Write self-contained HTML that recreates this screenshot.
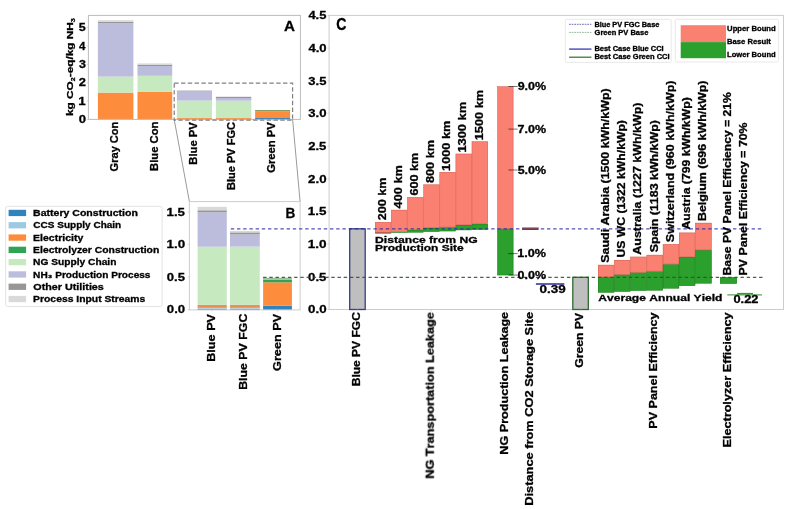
<!DOCTYPE html>
<html><head><meta charset="utf-8"><style>
html,body{margin:0;padding:0;background:#fff;}
svg{display:block;filter:blur(0.35px);}
text{font-family:"Liberation Sans",sans-serif;font-weight:bold;font-kerning:none;stroke:#000;stroke-width:0.3px;}
</style></head><body>
<svg width="787" height="509" viewBox="0 0 787 509">
<rect width="787" height="509" fill="#fff"/>
<g opacity="0.999">
<rect x="97.90" y="92.60" width="35.50" height="26.80" fill="#fd8d3c"/>
<rect x="97.90" y="76.60" width="35.50" height="16.00" fill="#c7e9c0"/>
<rect x="97.90" y="23.10" width="35.50" height="53.50" fill="#bcbddc"/>
<rect x="97.90" y="21.80" width="35.50" height="1.30" fill="#969696"/>
<rect x="97.90" y="20.20" width="35.50" height="1.60" fill="#d9d9d9"/>
<rect x="137.50" y="91.70" width="34.70" height="27.70" fill="#fd8d3c"/>
<rect x="137.50" y="75.80" width="34.70" height="15.90" fill="#c7e9c0"/>
<rect x="137.50" y="66.00" width="34.70" height="9.80" fill="#bcbddc"/>
<rect x="137.50" y="64.70" width="34.70" height="1.30" fill="#969696"/>
<rect x="137.50" y="63.40" width="34.70" height="1.30" fill="#d9d9d9"/>
<rect x="176.90" y="118.90" width="35.10" height="0.50" fill="#3182bd"/>
<rect x="176.90" y="118.00" width="35.10" height="0.90" fill="#fd8d3c"/>
<rect x="176.90" y="100.60" width="35.10" height="17.40" fill="#c7e9c0"/>
<rect x="176.90" y="91.40" width="35.10" height="9.20" fill="#bcbddc"/>
<rect x="176.90" y="90.60" width="35.10" height="0.80" fill="#969696"/>
<rect x="176.90" y="90.00" width="35.10" height="0.60" fill="#d9d9d9"/>
<rect x="215.90" y="118.90" width="35.40" height="0.50" fill="#3182bd"/>
<rect x="215.90" y="118.00" width="35.40" height="0.90" fill="#fd8d3c"/>
<rect x="215.90" y="100.70" width="35.40" height="17.30" fill="#c7e9c0"/>
<rect x="215.90" y="98.00" width="35.40" height="2.70" fill="#bcbddc"/>
<rect x="215.90" y="97.00" width="35.40" height="1.00" fill="#969696"/>
<rect x="215.90" y="96.50" width="35.40" height="0.50" fill="#d9d9d9"/>
<rect x="255.10" y="118.00" width="35.00" height="1.40" fill="#3182bd"/>
<rect x="255.10" y="111.30" width="35.00" height="6.70" fill="#fd8d3c"/>
<rect x="255.10" y="110.10" width="35.00" height="1.20" fill="#7d8f55"/>
<rect x="88.4" y="15.4" width="212.0" height="104.0" fill="none" stroke="#bcbcbc" stroke-width="1"/>
<line x1="86.80" y1="119.40" x2="88.40" y2="119.40" stroke="#cccccc" stroke-width="0.8"/>
<text x="78.68" y="123.12" font-size="10.8" textLength="7.25" lengthAdjust="spacingAndGlyphs" fill="#000">0</text>
<line x1="86.80" y1="101.05" x2="88.40" y2="101.05" stroke="#cccccc" stroke-width="0.8"/>
<text x="78.36" y="104.77" font-size="10.8" textLength="7.41" lengthAdjust="spacingAndGlyphs" fill="#000">1</text>
<line x1="86.80" y1="82.70" x2="88.40" y2="82.70" stroke="#cccccc" stroke-width="0.8"/>
<text x="78.75" y="86.47" font-size="10.8" textLength="7.16" lengthAdjust="spacingAndGlyphs" fill="#000">2</text>
<line x1="86.80" y1="64.35" x2="88.40" y2="64.35" stroke="#cccccc" stroke-width="0.8"/>
<text x="78.91" y="68.06" font-size="10.8" textLength="6.94" lengthAdjust="spacingAndGlyphs" fill="#000">3</text>
<line x1="86.80" y1="46.00" x2="88.40" y2="46.00" stroke="#cccccc" stroke-width="0.8"/>
<text x="79.02" y="49.72" font-size="10.8" textLength="6.44" lengthAdjust="spacingAndGlyphs" fill="#000">4</text>
<line x1="86.80" y1="27.65" x2="88.40" y2="27.65" stroke="#cccccc" stroke-width="0.8"/>
<text x="78.82" y="31.31" font-size="10.8" textLength="6.93" lengthAdjust="spacingAndGlyphs" fill="#000">5</text>
<line x1="115.60" y1="119.40" x2="115.60" y2="121.00" stroke="#cccccc" stroke-width="0.8"/>
<line x1="154.90" y1="119.40" x2="154.90" y2="121.00" stroke="#cccccc" stroke-width="0.8"/>
<line x1="194.30" y1="119.40" x2="194.30" y2="121.00" stroke="#cccccc" stroke-width="0.8"/>
<line x1="233.60" y1="119.40" x2="233.60" y2="121.00" stroke="#cccccc" stroke-width="0.8"/>
<line x1="272.90" y1="119.40" x2="272.90" y2="121.00" stroke="#cccccc" stroke-width="0.8"/>
<text transform="translate(118.00,171.45) rotate(-90)" font-size="10.2" textLength="49.84" lengthAdjust="spacingAndGlyphs" fill="#000">Gray Con</text>
<text transform="translate(157.75,170.95) rotate(-90)" font-size="10.2" textLength="49.35" lengthAdjust="spacingAndGlyphs" fill="#000">Blue Con</text>
<text transform="translate(196.65,164.75) rotate(-90)" font-size="10.2" textLength="42.53" lengthAdjust="spacingAndGlyphs" fill="#000">Blue PV</text>
<text transform="translate(235.45,189.94) rotate(-90)" font-size="10.2" textLength="67.94" lengthAdjust="spacingAndGlyphs" fill="#000">Blue PV FGC</text>
<text transform="translate(275.01,172.76) rotate(-90)" font-size="10.2" textLength="50.54" lengthAdjust="spacingAndGlyphs" fill="#000">Green PV</text>
<text x="284.02" y="30.50" font-size="15.3" textLength="10.98" lengthAdjust="spacingAndGlyphs" fill="#000">A</text>
<rect x="174.2" y="83.2" width="118.4" height="36.9" fill="none" stroke="#808080" stroke-width="1.2" stroke-dasharray="4.4,2.4"/>
<line x1="174.20" y1="119.50" x2="189.40" y2="201.60" stroke="#808080" stroke-width="0.8"/>
<line x1="292.60" y1="119.50" x2="300.10" y2="201.60" stroke="#808080" stroke-width="0.8"/>
<rect x="197.60" y="308.50" width="29.20" height="1.40" fill="#4a7aa8"/>
<rect x="197.60" y="307.90" width="29.20" height="0.60" fill="#d8e6ee"/>
<rect x="197.60" y="304.80" width="29.20" height="3.10" fill="#ea9152"/>
<rect x="197.60" y="246.70" width="29.20" height="58.10" fill="#c7e9c0"/>
<rect x="197.60" y="212.20" width="29.20" height="34.50" fill="#bcbddc"/>
<rect x="197.60" y="210.30" width="29.20" height="1.90" fill="#969696"/>
<rect x="197.60" y="206.80" width="29.20" height="3.50" fill="#d9d9d9"/>
<rect x="230.00" y="308.50" width="29.80" height="1.40" fill="#4a7aa8"/>
<rect x="230.00" y="307.90" width="29.80" height="0.60" fill="#d8e6ee"/>
<rect x="230.00" y="304.80" width="29.80" height="3.10" fill="#ea9152"/>
<rect x="230.00" y="246.60" width="29.80" height="58.20" fill="#c7e9c0"/>
<rect x="230.00" y="234.40" width="29.80" height="12.20" fill="#bcbddc"/>
<rect x="230.00" y="232.40" width="29.80" height="2.00" fill="#969696"/>
<rect x="230.00" y="230.90" width="29.80" height="1.50" fill="#d9d9d9"/>
<rect x="263.10" y="305.80" width="28.80" height="4.10" fill="#3182bd"/>
<rect x="263.10" y="282.30" width="28.80" height="23.50" fill="#fd8d3c"/>
<rect x="263.10" y="279.60" width="28.80" height="2.70" fill="#31a354"/>
<rect x="263.10" y="277.80" width="28.80" height="1.80" fill="#9dbd9a"/>
<rect x="189.4" y="201.6" width="110.7" height="108.3" fill="none" stroke="#cccccc" stroke-width="1"/>
<line x1="187.80" y1="309.60" x2="189.40" y2="309.60" stroke="#cccccc" stroke-width="0.8"/>
<text x="166.88" y="313.39" font-size="11.0" textLength="18.26" lengthAdjust="spacingAndGlyphs" fill="#000">0.0</text>
<line x1="187.80" y1="277.05" x2="189.40" y2="277.05" stroke="#cccccc" stroke-width="0.8"/>
<text x="166.89" y="280.84" font-size="11.0" textLength="18.08" lengthAdjust="spacingAndGlyphs" fill="#000">0.5</text>
<line x1="187.80" y1="244.50" x2="189.40" y2="244.50" stroke="#cccccc" stroke-width="0.8"/>
<text x="166.56" y="248.29" font-size="11.0" textLength="18.59" lengthAdjust="spacingAndGlyphs" fill="#000">1.0</text>
<line x1="187.80" y1="211.95" x2="189.40" y2="211.95" stroke="#cccccc" stroke-width="0.8"/>
<text x="166.57" y="215.68" font-size="11.0" textLength="18.40" lengthAdjust="spacingAndGlyphs" fill="#000">1.5</text>
<line x1="212.20" y1="309.90" x2="212.20" y2="311.50" stroke="#cccccc" stroke-width="0.8"/>
<line x1="244.90" y1="309.90" x2="244.90" y2="311.50" stroke="#cccccc" stroke-width="0.8"/>
<line x1="277.50" y1="309.90" x2="277.50" y2="311.50" stroke="#cccccc" stroke-width="0.8"/>
<text transform="translate(215.07,361.85) rotate(-90)" font-size="11.4" textLength="47.94" lengthAdjust="spacingAndGlyphs" fill="#000">Blue PV</text>
<text transform="translate(247.47,389.83) rotate(-90)" font-size="11.4" textLength="76.16" lengthAdjust="spacingAndGlyphs" fill="#000">Blue PV FGC</text>
<text transform="translate(280.72,370.92) rotate(-90)" font-size="11.4" textLength="57.01" lengthAdjust="spacingAndGlyphs" fill="#000">Green PV</text>
<text x="285.39" y="218.00" font-size="15.1" textLength="9.83" lengthAdjust="spacingAndGlyphs" fill="#000">B</text>
<rect x="5.6" y="206.3" width="156.5" height="100.2" rx="2" fill="#fff" stroke="#e3e3e3" stroke-width="1"/>
<rect x="8.60" y="209.80" width="17.50" height="6.30" fill="#3182bd"/>
<text x="33.10" y="216.10" font-size="9.2" textLength="104.76" lengthAdjust="spacingAndGlyphs" fill="#000">Battery Construction</text>
<rect x="8.60" y="222.10" width="17.50" height="6.30" fill="#9ecae1"/>
<text x="33.39" y="228.40" font-size="9.2" textLength="87.83" lengthAdjust="spacingAndGlyphs" fill="#000">CCS Supply Chain</text>
<rect x="8.60" y="234.40" width="17.50" height="6.30" fill="#fd8d3c"/>
<text x="33.10" y="240.70" font-size="9.2" textLength="50.16" lengthAdjust="spacingAndGlyphs" fill="#000">Electricity</text>
<rect x="8.60" y="246.70" width="17.50" height="6.30" fill="#31a354"/>
<text x="33.11" y="253.00" font-size="9.2" textLength="126.14" lengthAdjust="spacingAndGlyphs" fill="#000">Electrolyzer Construction</text>
<rect x="8.60" y="259.00" width="17.50" height="6.30" fill="#c7e9c0"/>
<text x="33.12" y="265.30" font-size="9.2" textLength="83.32" lengthAdjust="spacingAndGlyphs" fill="#000">NG Supply Chain</text>
<rect x="8.60" y="271.30" width="17.50" height="6.30" fill="#bcbddc"/>
<text x="33.12" y="277.60" font-size="9.2" textLength="117.39" lengthAdjust="spacingAndGlyphs" fill="#000">NH₃ Production Process</text>
<rect x="8.60" y="283.60" width="17.50" height="6.30" fill="#969696"/>
<text x="33.36" y="289.90" font-size="9.2" textLength="70.48" lengthAdjust="spacingAndGlyphs" fill="#000">Other Utilities</text>
<rect x="8.60" y="295.90" width="17.50" height="6.30" fill="#d9d9d9"/>
<text x="33.11" y="302.20" font-size="9.2" textLength="112.22" lengthAdjust="spacingAndGlyphs" fill="#000">Process Input Streams</text>
<rect x="329.1" y="15.4" width="454.4" height="294.1" fill="none" stroke="#cccccc" stroke-width="1"/>
<line x1="327.50" y1="309.50" x2="329.10" y2="309.50" stroke="#cccccc" stroke-width="0.8"/>
<text x="308.07" y="313.29" font-size="11.0" textLength="18.47" lengthAdjust="spacingAndGlyphs" fill="#000">0.0</text>
<line x1="327.50" y1="276.82" x2="329.10" y2="276.82" stroke="#cccccc" stroke-width="0.8"/>
<text x="308.08" y="280.61" font-size="11.0" textLength="18.29" lengthAdjust="spacingAndGlyphs" fill="#000">0.5</text>
<line x1="327.50" y1="244.14" x2="329.10" y2="244.14" stroke="#cccccc" stroke-width="0.8"/>
<text x="307.75" y="247.93" font-size="11.0" textLength="18.81" lengthAdjust="spacingAndGlyphs" fill="#000">1.0</text>
<line x1="327.50" y1="211.46" x2="329.10" y2="211.46" stroke="#cccccc" stroke-width="0.8"/>
<text x="307.76" y="215.19" font-size="11.0" textLength="18.62" lengthAdjust="spacingAndGlyphs" fill="#000">1.5</text>
<line x1="327.50" y1="178.78" x2="329.10" y2="178.78" stroke="#cccccc" stroke-width="0.8"/>
<text x="308.14" y="182.57" font-size="11.0" textLength="18.40" lengthAdjust="spacingAndGlyphs" fill="#000">2.0</text>
<line x1="327.50" y1="146.10" x2="329.10" y2="146.10" stroke="#cccccc" stroke-width="0.8"/>
<text x="308.15" y="149.89" font-size="11.0" textLength="18.22" lengthAdjust="spacingAndGlyphs" fill="#000">2.5</text>
<line x1="327.50" y1="113.42" x2="329.10" y2="113.42" stroke="#cccccc" stroke-width="0.8"/>
<text x="308.30" y="117.20" font-size="11.0" textLength="18.24" lengthAdjust="spacingAndGlyphs" fill="#000">3.0</text>
<line x1="327.50" y1="80.74" x2="329.10" y2="80.74" stroke="#cccccc" stroke-width="0.8"/>
<text x="308.30" y="84.52" font-size="11.0" textLength="18.06" lengthAdjust="spacingAndGlyphs" fill="#000">3.5</text>
<line x1="327.50" y1="48.06" x2="329.10" y2="48.06" stroke="#cccccc" stroke-width="0.8"/>
<text x="308.40" y="51.85" font-size="11.0" textLength="18.13" lengthAdjust="spacingAndGlyphs" fill="#000">4.0</text>
<line x1="327.50" y1="15.38" x2="329.10" y2="15.38" stroke="#cccccc" stroke-width="0.8"/>
<text x="308.40" y="19.11" font-size="11.0" textLength="17.95" lengthAdjust="spacingAndGlyphs" fill="#000">4.5</text>
<text x="336.32" y="30.30" font-size="15.6" textLength="10.16" lengthAdjust="spacingAndGlyphs" fill="#000">C</text>
<rect x="565.3" y="19.3" width="105.9" height="43.1" rx="1.5" fill="#fff" stroke="#e3e3e3" stroke-width="0.8"/>
<rect x="675.3" y="19.3" width="103.3" height="42.7" rx="1.5" fill="#fff" stroke="#e3e3e3" stroke-width="0.8"/>
<line x1="569.10" y1="24.30" x2="591.40" y2="24.30" stroke="#3c3c96" stroke-width="0.75" stroke-dasharray="1.7,0.9"/>
<line x1="569.10" y1="32.40" x2="591.40" y2="32.40" stroke="#8fae8f" stroke-width="0.9" stroke-dasharray="1.7,0.9"/>
<line x1="569.10" y1="49.10" x2="591.40" y2="49.10" stroke="#4646c0" stroke-width="1.4"/>
<line x1="569.10" y1="57.20" x2="591.40" y2="57.20" stroke="#2a6e2a" stroke-width="1.2"/>
<text x="594.41" y="26.70" font-size="6.8" textLength="64.94" lengthAdjust="spacingAndGlyphs" fill="#000">Blue PV FGC Base</text>
<text x="594.59" y="34.60" font-size="6.8" textLength="53.76" lengthAdjust="spacingAndGlyphs" fill="#000">Green PV Base</text>
<text x="594.40" y="50.70" font-size="6.8" textLength="69.30" lengthAdjust="spacingAndGlyphs" fill="#000">Best Case Blue CCI</text>
<text x="594.40" y="59.10" font-size="6.8" textLength="75.21" lengthAdjust="spacingAndGlyphs" fill="#000">Best Case Green CCI</text>
<rect x="680.70" y="25.20" width="45.30" height="16.90" fill="#fa8072"/>
<rect x="680.70" y="42.10" width="45.30" height="16.10" fill="#2ca02c"/>
<text x="727.14" y="30.70" font-size="6.9" textLength="48.57" lengthAdjust="spacingAndGlyphs" fill="#000">Upper Bound</text>
<text x="727.09" y="43.80" font-size="6.9" textLength="43.81" lengthAdjust="spacingAndGlyphs" fill="#000">Base Result</text>
<text x="727.09" y="56.90" font-size="6.9" textLength="48.61" lengthAdjust="spacingAndGlyphs" fill="#000">Lower Bound</text>
<rect x="349.7" y="228.8" width="15.5" height="80.7" fill="#bfbfbf" stroke="#3a3a92" stroke-width="1.3"/>
<rect x="375.10" y="232.90" width="16.10" height="0.40" fill="#2ca02c"/>
<rect x="375.10" y="222.10" width="16.10" height="10.80" fill="#fa8072"/>
<rect x="375.32" y="222.32" width="15.66" height="10.36" fill="none" stroke="#cf5e50" stroke-width="0.45"/>
<line x1="375.10" y1="233.00" x2="391.20" y2="233.00" stroke="#7a4a35" stroke-width="0.9"/>
<rect x="391.20" y="231.80" width="16.10" height="0.80" fill="#2ca02c"/>
<rect x="391.42" y="232.02" width="15.66" height="0.36" fill="none" stroke="#1e7a1e" stroke-width="0.45"/>
<rect x="391.20" y="209.90" width="16.10" height="21.90" fill="#fa8072"/>
<rect x="391.42" y="210.12" width="15.66" height="21.46" fill="none" stroke="#cf5e50" stroke-width="0.45"/>
<rect x="407.30" y="229.90" width="16.10" height="2.50" fill="#2ca02c"/>
<rect x="407.52" y="230.12" width="15.66" height="2.06" fill="none" stroke="#1e7a1e" stroke-width="0.45"/>
<rect x="407.30" y="197.20" width="16.10" height="32.70" fill="#fa8072"/>
<rect x="407.52" y="197.42" width="15.66" height="32.26" fill="none" stroke="#cf5e50" stroke-width="0.45"/>
<rect x="423.50" y="228.00" width="16.10" height="3.70" fill="#2ca02c"/>
<rect x="423.72" y="228.22" width="15.66" height="3.26" fill="none" stroke="#1e7a1e" stroke-width="0.45"/>
<rect x="423.50" y="184.60" width="16.10" height="43.40" fill="#fa8072"/>
<rect x="423.72" y="184.82" width="15.66" height="42.96" fill="none" stroke="#cf5e50" stroke-width="0.45"/>
<rect x="439.60" y="227.20" width="16.10" height="4.00" fill="#2ca02c"/>
<rect x="439.82" y="227.42" width="15.66" height="3.56" fill="none" stroke="#1e7a1e" stroke-width="0.45"/>
<rect x="439.60" y="172.10" width="16.10" height="55.10" fill="#fa8072"/>
<rect x="439.82" y="172.32" width="15.66" height="54.66" fill="none" stroke="#cf5e50" stroke-width="0.45"/>
<rect x="455.70" y="224.90" width="16.10" height="5.20" fill="#2ca02c"/>
<rect x="455.92" y="225.12" width="15.66" height="4.76" fill="none" stroke="#1e7a1e" stroke-width="0.45"/>
<rect x="455.70" y="153.80" width="16.10" height="71.10" fill="#fa8072"/>
<rect x="455.92" y="154.02" width="15.66" height="70.66" fill="none" stroke="#cf5e50" stroke-width="0.45"/>
<rect x="471.80" y="223.90" width="16.10" height="5.70" fill="#2ca02c"/>
<rect x="472.02" y="224.12" width="15.66" height="5.26" fill="none" stroke="#1e7a1e" stroke-width="0.45"/>
<rect x="471.80" y="141.50" width="16.10" height="82.40" fill="#fa8072"/>
<rect x="472.02" y="141.72" width="15.66" height="81.96" fill="none" stroke="#cf5e50" stroke-width="0.45"/>
<rect x="497.40" y="228.60" width="15.90" height="46.60" fill="#2ca02c"/>
<rect x="497.62" y="228.82" width="15.46" height="46.16" fill="none" stroke="#1e7a1e" stroke-width="0.45"/>
<rect x="497.40" y="86.50" width="15.90" height="142.10" fill="#fa8072"/>
<rect x="497.62" y="86.72" width="15.46" height="141.66" fill="none" stroke="#cf5e50" stroke-width="0.45"/>
<rect x="572.8" y="277.3" width="15.5" height="32.2" fill="#bfbfbf" stroke="#2f6a2f" stroke-width="1.3"/>
<rect x="598.00" y="277.10" width="16.20" height="15.40" fill="#2ca02c"/>
<rect x="598.22" y="277.32" width="15.76" height="14.96" fill="none" stroke="#1e7a1e" stroke-width="0.45"/>
<rect x="598.00" y="264.90" width="16.20" height="12.20" fill="#fa8072"/>
<rect x="598.22" y="265.12" width="15.76" height="11.76" fill="none" stroke="#cf5e50" stroke-width="0.45"/>
<rect x="614.20" y="274.50" width="16.10" height="17.10" fill="#2ca02c"/>
<rect x="614.42" y="274.72" width="15.66" height="16.66" fill="none" stroke="#1e7a1e" stroke-width="0.45"/>
<rect x="614.20" y="260.00" width="16.10" height="14.50" fill="#fa8072"/>
<rect x="614.42" y="260.22" width="15.66" height="14.06" fill="none" stroke="#cf5e50" stroke-width="0.45"/>
<rect x="630.30" y="272.40" width="16.30" height="18.30" fill="#2ca02c"/>
<rect x="630.52" y="272.62" width="15.86" height="17.86" fill="none" stroke="#1e7a1e" stroke-width="0.45"/>
<rect x="630.30" y="256.80" width="16.30" height="15.60" fill="#fa8072"/>
<rect x="630.52" y="257.02" width="15.86" height="15.16" fill="none" stroke="#cf5e50" stroke-width="0.45"/>
<rect x="646.60" y="271.30" width="16.30" height="19.10" fill="#2ca02c"/>
<rect x="646.82" y="271.52" width="15.86" height="18.66" fill="none" stroke="#1e7a1e" stroke-width="0.45"/>
<rect x="646.60" y="254.90" width="16.30" height="16.40" fill="#fa8072"/>
<rect x="646.82" y="255.12" width="15.86" height="15.96" fill="none" stroke="#cf5e50" stroke-width="0.45"/>
<rect x="662.90" y="264.20" width="16.20" height="24.20" fill="#2ca02c"/>
<rect x="663.12" y="264.42" width="15.76" height="23.76" fill="none" stroke="#1e7a1e" stroke-width="0.45"/>
<rect x="662.90" y="244.20" width="16.20" height="20.00" fill="#fa8072"/>
<rect x="663.12" y="244.42" width="15.76" height="19.56" fill="none" stroke="#cf5e50" stroke-width="0.45"/>
<rect x="679.10" y="256.80" width="16.10" height="29.00" fill="#2ca02c"/>
<rect x="679.32" y="257.02" width="15.66" height="28.56" fill="none" stroke="#1e7a1e" stroke-width="0.45"/>
<rect x="679.10" y="232.70" width="16.10" height="24.10" fill="#fa8072"/>
<rect x="679.32" y="232.92" width="15.66" height="23.66" fill="none" stroke="#cf5e50" stroke-width="0.45"/>
<rect x="695.20" y="250.10" width="16.40" height="33.30" fill="#2ca02c"/>
<rect x="695.42" y="250.32" width="15.96" height="32.86" fill="none" stroke="#1e7a1e" stroke-width="0.45"/>
<rect x="695.20" y="222.90" width="16.40" height="27.20" fill="#fa8072"/>
<rect x="695.42" y="223.12" width="15.96" height="26.76" fill="none" stroke="#cf5e50" stroke-width="0.45"/>
<rect x="720.10" y="277.20" width="16.80" height="6.50" fill="#2ca02c"/>
<rect x="720.32" y="277.42" width="16.36" height="6.06" fill="none" stroke="#1e7a1e" stroke-width="0.45"/>
<rect x="737.10" y="292.90" width="15.90" height="1.80" fill="#2ca02c"/>
<line x1="230.00" y1="228.90" x2="762.50" y2="228.90" stroke="#2a2aa8" stroke-width="1.35" stroke-dasharray="3.4,2.8" stroke-opacity="0.82" stroke-dashoffset="-0.8"/>
<line x1="263.10" y1="277.40" x2="763.50" y2="277.40" stroke="#2c522c" stroke-width="1.3" stroke-dasharray="3.4,2.8" stroke-opacity="0.88"/>
<rect x="522.10" y="227.60" width="16.50" height="2.40" fill="#6e3c58"/>
<rect x="522.10" y="227.60" width="16.50" height="0.60" fill="#b8706c"/>
<line x1="508.40" y1="86.50" x2="517.60" y2="86.50" stroke="#000000" stroke-width="0.9" stroke-opacity="0.6"/>
<text x="517.67" y="90.01" font-size="10.2" textLength="28.36" lengthAdjust="spacingAndGlyphs" fill="#000">9.0%</text>
<line x1="508.40" y1="129.10" x2="517.60" y2="129.10" stroke="#000000" stroke-width="0.9" stroke-opacity="0.6"/>
<text x="517.56" y="132.61" font-size="10.2" textLength="28.47" lengthAdjust="spacingAndGlyphs" fill="#000">7.0%</text>
<line x1="508.40" y1="170.00" x2="517.60" y2="170.00" stroke="#000000" stroke-width="0.9" stroke-opacity="0.6"/>
<text x="517.72" y="173.51" font-size="10.2" textLength="28.31" lengthAdjust="spacingAndGlyphs" fill="#000">5.0%</text>
<line x1="508.40" y1="253.60" x2="517.60" y2="253.60" stroke="#000000" stroke-width="0.9" stroke-opacity="0.6"/>
<text x="517.31" y="257.11" font-size="10.2" textLength="28.73" lengthAdjust="spacingAndGlyphs" fill="#000">1.0%</text>
<line x1="508.40" y1="275.10" x2="517.60" y2="275.10" stroke="#000000" stroke-width="0.9" stroke-opacity="0.6"/>
<text x="517.61" y="278.61" font-size="10.2" textLength="28.42" lengthAdjust="spacingAndGlyphs" fill="#000">0.0%</text>
<line x1="535.90" y1="284.00" x2="564.30" y2="284.00" stroke="#2a2a9a" stroke-width="1.5"/>
<text x="539.47" y="292.50" font-size="10.2" textLength="26.13" lengthAdjust="spacingAndGlyphs" fill="#000">0.39</text>
<line x1="727.30" y1="294.80" x2="762.00" y2="294.80" stroke="#5aa55a" stroke-width="1.2"/>
<text x="733.49" y="302.80" font-size="10.0" textLength="24.92" lengthAdjust="spacingAndGlyphs" fill="#000">0.22</text>
<text x="375.09" y="242.80" font-size="9.7" textLength="102.57" lengthAdjust="spacingAndGlyphs" fill="#000">Distance from NG</text>
<text x="375.10" y="251.10" font-size="9.7" textLength="88.71" lengthAdjust="spacingAndGlyphs" fill="#000">Production Site</text>
<text x="598.30" y="301.40" font-size="9.7" textLength="124.20" lengthAdjust="spacingAndGlyphs" fill="#000">Average Annual Yield</text>
<text transform="translate(386.15,220.34) rotate(-90)" font-size="10.2" textLength="42.72" lengthAdjust="spacingAndGlyphs" fill="#000">200 km</text>
<text transform="translate(402.25,208.39) rotate(-90)" font-size="10.2" textLength="43.28" lengthAdjust="spacingAndGlyphs" fill="#000">400 km</text>
<text transform="translate(418.35,195.56) rotate(-90)" font-size="10.2" textLength="42.64" lengthAdjust="spacingAndGlyphs" fill="#000">600 km</text>
<text transform="translate(434.25,183.00) rotate(-90)" font-size="10.2" textLength="42.99" lengthAdjust="spacingAndGlyphs" fill="#000">800 km</text>
<text transform="translate(450.35,170.90) rotate(-90)" font-size="10.2" textLength="50.19" lengthAdjust="spacingAndGlyphs" fill="#000">1000 km</text>
<text transform="translate(466.44,152.61) rotate(-90)" font-size="10.2" textLength="50.81" lengthAdjust="spacingAndGlyphs" fill="#000">1300 km</text>
<text transform="translate(482.65,140.31) rotate(-90)" font-size="10.2" textLength="50.50" lengthAdjust="spacingAndGlyphs" fill="#000">1500 km</text>
<text transform="translate(608.85,262.66) rotate(-90)" font-size="10.2" textLength="174.27" lengthAdjust="spacingAndGlyphs" fill="#000">Saudi Arabia (1500 kWh/kWp)</text>
<text transform="translate(625.25,257.53) rotate(-90)" font-size="10.2" textLength="137.44" lengthAdjust="spacingAndGlyphs" fill="#000">US WC (1322 kWh/kWp)</text>
<text transform="translate(641.45,254.71) rotate(-90)" font-size="10.2" textLength="152.13" lengthAdjust="spacingAndGlyphs" fill="#000">Australia (1227 kWh/kWp)</text>
<text transform="translate(657.65,252.36) rotate(-90)" font-size="10.2" textLength="132.27" lengthAdjust="spacingAndGlyphs" fill="#000">Spain (1183 kWh/kWp)</text>
<text transform="translate(673.85,242.16) rotate(-90)" font-size="10.2" textLength="161.68" lengthAdjust="spacingAndGlyphs" fill="#000">Switzerland (960 kWh/kWp)</text>
<text transform="translate(690.15,229.60) rotate(-90)" font-size="10.2" textLength="132.31" lengthAdjust="spacingAndGlyphs" fill="#000">Austria (799 kWh/kWp)</text>
<text transform="translate(706.25,221.03) rotate(-90)" font-size="10.2" textLength="140.55" lengthAdjust="spacingAndGlyphs" fill="#000">Belgium (696 kWh/kWp)</text>
<text transform="translate(730.85,275.41) rotate(-90)" font-size="10.2" textLength="183.33" lengthAdjust="spacingAndGlyphs" fill="#000">Base PV Panel Efficiency = 21%</text>
<text transform="translate(746.95,275.42) rotate(-90)" font-size="10.2" textLength="152.95" lengthAdjust="spacingAndGlyphs" fill="#000">PV Panel Efficiency = 70%</text>
<line x1="357.50" y1="309.50" x2="357.50" y2="311.10" stroke="#cccccc" stroke-width="0.8"/>
<line x1="431.50" y1="309.50" x2="431.50" y2="311.10" stroke="#cccccc" stroke-width="0.8"/>
<line x1="505.40" y1="309.50" x2="505.40" y2="311.10" stroke="#cccccc" stroke-width="0.8"/>
<line x1="530.40" y1="309.50" x2="530.40" y2="311.10" stroke="#cccccc" stroke-width="0.8"/>
<line x1="580.60" y1="309.50" x2="580.60" y2="311.10" stroke="#cccccc" stroke-width="0.8"/>
<line x1="654.70" y1="309.50" x2="654.70" y2="311.10" stroke="#cccccc" stroke-width="0.8"/>
<line x1="728.50" y1="309.50" x2="728.50" y2="311.10" stroke="#cccccc" stroke-width="0.8"/>
<text transform="translate(360.05,386.30) rotate(-90)" font-size="10.4" textLength="74.13" lengthAdjust="spacingAndGlyphs" fill="#000">Blue PV FGC</text>
<text transform="translate(433.75,478.65) rotate(-90)" font-size="10.4" textLength="166.58" lengthAdjust="spacingAndGlyphs" fill="#000">NG Transportation Leakage</text>
<text transform="translate(507.65,454.64) rotate(-90)" font-size="10.4" textLength="142.77" lengthAdjust="spacingAndGlyphs" fill="#000">NG Production Leakage</text>
<text transform="translate(532.95,505.76) rotate(-90)" font-size="10.4" textLength="193.90" lengthAdjust="spacingAndGlyphs" fill="#000">Distance from CO2 Storage Site</text>
<text transform="translate(583.15,367.80) rotate(-90)" font-size="10.4" textLength="54.88" lengthAdjust="spacingAndGlyphs" fill="#000">Green PV</text>
<text transform="translate(657.45,428.64) rotate(-90)" font-size="10.4" textLength="116.20" lengthAdjust="spacingAndGlyphs" fill="#000">PV Panel Efficiency</text>
<text transform="translate(730.85,447.55) rotate(-90)" font-size="10.4" textLength="135.11" lengthAdjust="spacingAndGlyphs" fill="#000">Electrolyzer Efficiency</text>
<text transform="translate(73.45,116.02) rotate(-90)" font-size="9.9" textLength="97.78" lengthAdjust="spacingAndGlyphs">kg CO<tspan font-size="5.94" dy="1.19">2</tspan><tspan dy="-1.19">-eq/kg NH</tspan><tspan font-size="5.94" dy="1.19">3</tspan></text>
</g></svg></body></html>
